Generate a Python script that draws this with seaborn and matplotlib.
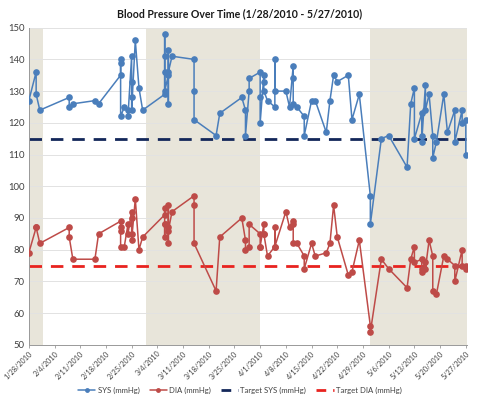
import seaborn as sns
import matplotlib.pyplot as plt
import pandas as pd
from matplotlib.lines import Line2D


# readings (same-day readings repeat the date, kept in the order taken)
dates = [
    '2010-01-28', '2010-01-30', '2010-01-30', '2010-01-31',
    '2010-02-08', '2010-02-08', '2010-02-09', '2010-02-15', '2010-02-16',
    '2010-02-22', '2010-02-22', '2010-02-22', '2010-02-22', '2010-02-23',
    '2010-02-24', '2010-02-24',
    '2010-02-25', '2010-02-25', '2010-02-25', '2010-02-25',
    '2010-02-26', '2010-02-27', '2010-02-28',
    '2010-03-06', '2010-03-06', '2010-03-06', '2010-03-06', '2010-03-06',
    '2010-03-07', '2010-03-07', '2010-03-07', '2010-03-07', '2010-03-08',
    '2010-03-14', '2010-03-14', '2010-03-14', '2010-03-20', '2010-03-21',
    '2010-03-27', '2010-03-28', '2010-03-28', '2010-03-29', '2010-03-29',
    '2010-04-01', '2010-04-01', '2010-04-01', '2010-04-02', '2010-04-02',
    '2010-04-02', '2010-04-03', '2010-04-05', '2010-04-05', '2010-04-05',
    '2010-04-08', '2010-04-09', '2010-04-10', '2010-04-10', '2010-04-10',
    '2010-04-11', '2010-04-13', '2010-04-13', '2010-04-15', '2010-04-16',
    '2010-04-19', '2010-04-20', '2010-04-21', '2010-04-22', '2010-04-25',
    '2010-04-26', '2010-04-28', '2010-05-01', '2010-05-01', '2010-05-04',
    '2010-05-06', '2010-05-11', '2010-05-12', '2010-05-13', '2010-05-13',
    '2010-05-15', '2010-05-15', '2010-05-15', '2010-05-16', '2010-05-16',
    '2010-05-17', '2010-05-18', '2010-05-18', '2010-05-19', '2010-05-21',
    '2010-05-22', '2010-05-24', '2010-05-24', '2010-05-26', '2010-05-26',
    '2010-05-27', '2010-05-27',
]
sys_vals = [
    127, 136, 129, 124,
    128, 125, 126, 127, 126,
    135, 140, 139, 122, 125,
    124, 122,
    141, 133, 128, 124,
    146, 131, 124,
    129, 148, 141, 136, 130,
    135, 143, 126, 136, 141,
    140, 130, 121, 116, 123,
    128, 124, 116, 130, 134,
    136, 128, 120, 135, 133,
    130, 127, 125, 140, 130,
    130, 125, 138, 134, 126,
    125, 122, 116, 127, 127,
    117, 127, 135, 133, 135,
    121, 129, 97, 88, 115,
    116, 106, 126, 131, 115,
    123, 116, 114, 132, 124,
    129, 116, 109, 114, 129,
    117, 124, 114, 124, 120,
    121, 110,
]
dia_vals = [
    79, 87, 87, 82,
    87, 84, 77, 77, 85,
    89, 87, 86, 81, 81,
    88, 85,
    92, 90, 85, 83,
    96, 80, 84,
    91, 93, 88, 84, 88,
    87, 94, 82, 86, 92,
    97, 94, 82, 67, 84,
    90, 83, 80, 81, 88,
    85, 81, 81, 88, 85,
    85, 78, 81, 87, 81,
    92, 87, 89, 88, 82,
    82, 78, 74, 82, 78,
    79, 82, 94, 84, 72,
    73, 83, 56, 54, 77,
    74, 68, 77, 81, 76,
    77, 74, 73, 76, 74,
    83, 78, 67, 66, 78,
    77, 75, 70, 80, 75,
    74, 75,
]
target_sys = 115
target_dia = 75
start_date = '2010-01-28'
end_date = '2010-05-27'
shade_start = ['2010-01-28', '2010-03-01', '2010-05-01']
shade_end = ['2010-02-01', '2010-04-01', '2010-05-27 08:00']


def generate_plot(df):
    sns.set_theme(style='white')
    plt.rcParams['font.family'] = ['Lato', 'DejaVu Sans']

    fig = plt.figure(figsize=(4.8, 4.01), dpi=100)
    ax = fig.add_axes([0.060, 0.140, 0.913, 0.791])

    for s, e in zip(shade_start, shade_end):
        ax.axvspan(pd.Timestamp(s), pd.Timestamp(e), color='#e8e5da', lw=0, zorder=0)

    ax.yaxis.grid(True, color='#e2e2e2', lw=0.7, zorder=0.5)
    ax.set_axisbelow(True)

    sys_col = '#4a7ebb'
    dia_col = '#be4b48'
    sns.lineplot(data=df, x='date', y='sys', ax=ax, color=sys_col, lw=1.1,
                 marker='o', markersize=4.8, markeredgewidth=0,
                 estimator=None, sort=False, zorder=3)
    sns.lineplot(data=df, x='date', y='dia', ax=ax, color=dia_col, lw=1.1,
                 marker='o', markersize=4.8, markeredgewidth=0,
                 estimator=None, sort=False, zorder=3)

    tgt = pd.DataFrame({'date': pd.to_datetime([start_date, end_date]),
                        'sys': [target_sys] * 2, 'dia': [target_dia] * 2})
    ax.plot(tgt['date'], tgt['sys'], color='#13275a', lw=2.0,
            dashes=(4.5, 3.2), zorder=2)
    ax.plot(tgt['date'], tgt['dia'], color='#e8231f', lw=2.0,
            dashes=(4.5, 3.2), zorder=2)

    ax.set_xlim(pd.Timestamp(start_date), pd.Timestamp('2010-05-27 08:00'))
    ax.set_ylim(50, 150)
    ax.set_yticks(range(50, 151, 10))
    ticks = pd.date_range(start_date, end_date, freq='7D')
    ax.set_xticks(ticks)
    ax.set_xticklabels([f'{d.month}/{d.day}/{d.year}' for d in ticks],
                       rotation=45, ha='right', rotation_mode='anchor',
                       fontsize=5.2, color='#404040')
    ax.tick_params(axis='y', labelsize=6.8, labelcolor='#404040', length=0, pad=3)
    ax.tick_params(axis='x', length=2.5, width=0.6, color='#999999',
                   direction='out', bottom=True, pad=1)
    ax.set_xlabel('')
    ax.set_ylabel('')

    for side in ['top', 'right']:
        ax.spines[side].set_visible(False)
    for side in ['left', 'bottom']:
        ax.spines[side].set_color('#999999')
        ax.spines[side].set_linewidth(0.7)

    fig.text(0.5, 0.966, 'Blood Pressure Over Time (1/28/2010 - 5/27/2010)',
             ha='center', va='center', fontsize=7.6, fontweight='bold', color='#1a1a1a')

    handles = [
        Line2D([], [], color=sys_col, lw=1.1, marker='o', markersize=3.5, markeredgewidth=0),
        Line2D([], [], color=dia_col, lw=1.1, marker='o', markersize=3.5, markeredgewidth=0),
        Line2D([], [], color='#13275a', lw=2.0, dashes=(3.5, 2.5)),
        Line2D([], [], color='#e8231f', lw=2.0, dashes=(3.5, 2.5)),
    ]
    labels = ['SYS (mmHg)', 'DIA (mmHg)', 'Target SYS (mmHg)', 'Target DIA (mmHg)']
    fig.legend(handles, labels, loc='center', bbox_to_anchor=(0.5, 0.027), ncol=4,
               frameon=False, fontsize=5.6, handlelength=2.2, handletextpad=0.3,
               columnspacing=1.3, labelcolor='#404040')

    fig.savefig('out.png', dpi=100)


def main():
    df = pd.DataFrame({'date': pd.to_datetime(dates), 'sys': sys_vals, 'dia': dia_vals})
    generate_plot(df)


if __name__ == '__main__':
    main()
